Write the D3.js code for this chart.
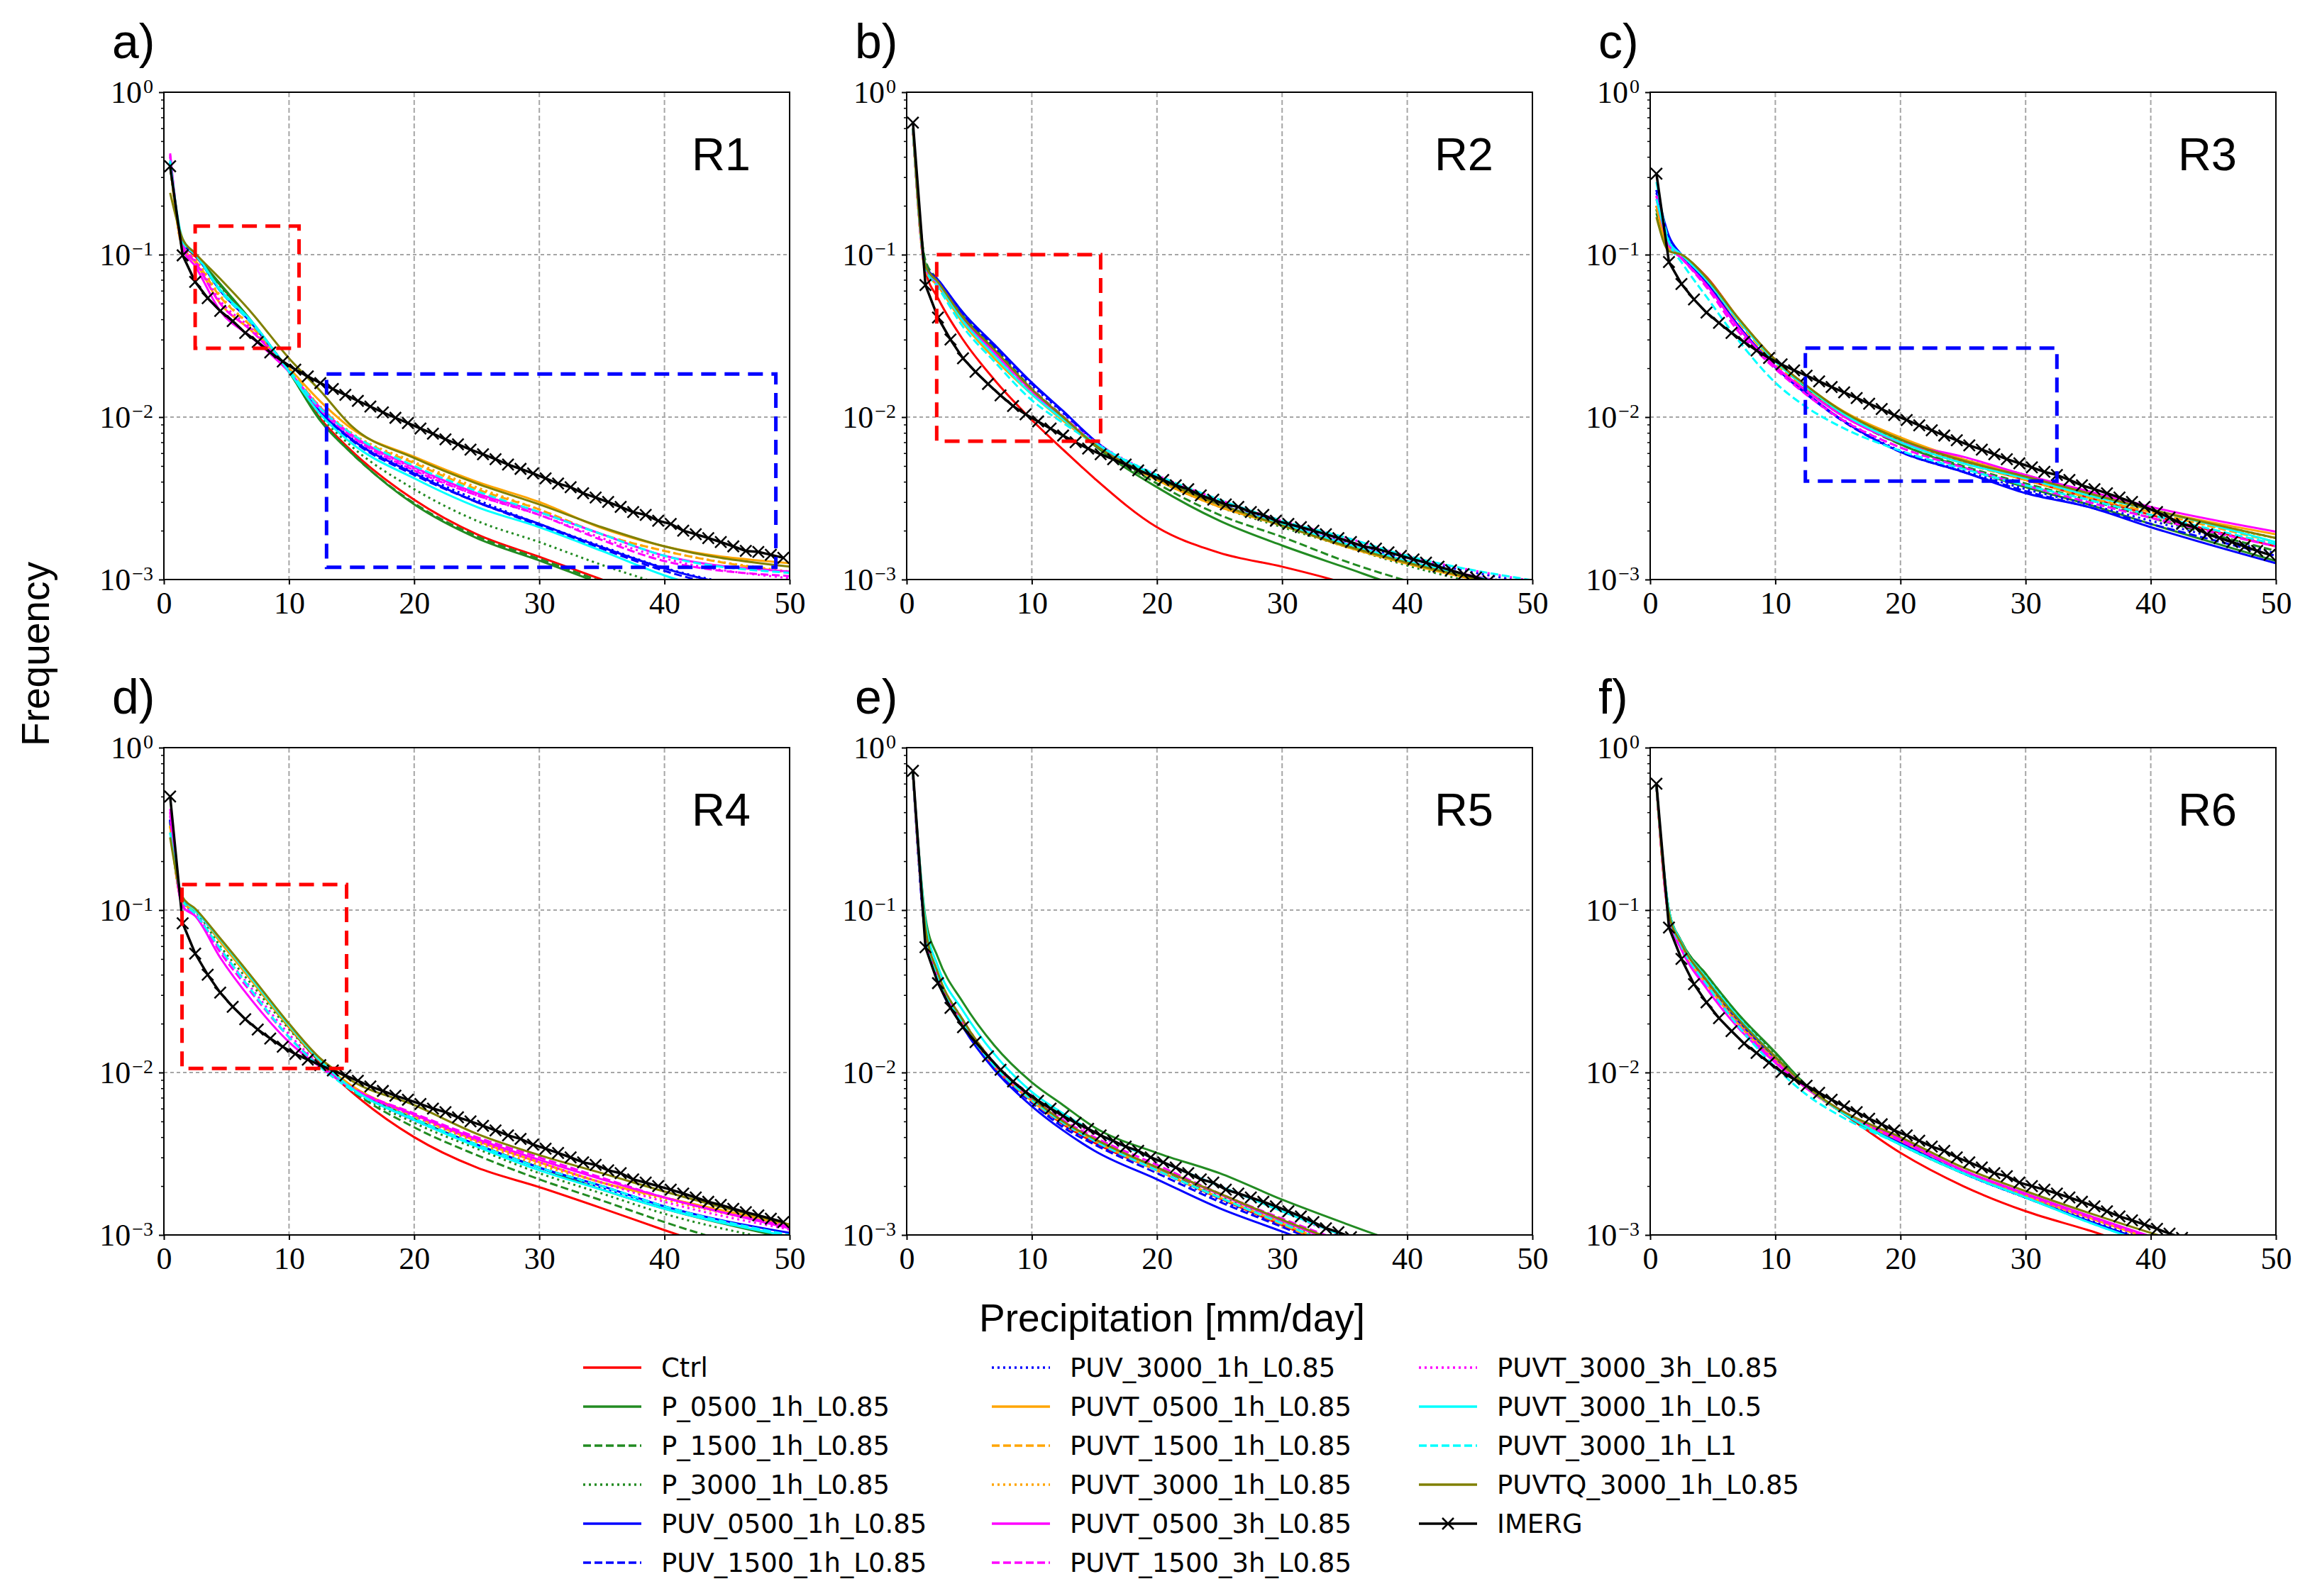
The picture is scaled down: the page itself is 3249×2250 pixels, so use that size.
<!DOCTYPE html>
<html>
<head>
<meta charset="utf-8">
<script src="https://cdn.jsdelivr.net/npm/d3@7"></script>
<style>
  body { margin: 0; background: #fff; }
</style>
</head>
<body>
<div id="chart"></div>
<script>
/*
----------------------------------------
Data (frequency per 1 mm/day bin)
----------------------------------------
*/
const modelNames = ['Ctrl', 'P_0500_1h_L0.85', 'P_1500_1h_L0.85', 'P_3000_1h_L0.85',
  'PUV_0500_1h_L0.85', 'PUV_1500_1h_L0.85', 'PUV_3000_1h_L0.85',
  'PUVT_0500_1h_L0.85', 'PUVT_1500_1h_L0.85', 'PUVT_3000_1h_L0.85',
  'PUVT_0500_3h_L0.85', 'PUVT_1500_3h_L0.85', 'PUVT_3000_3h_L0.85',
  'PUVT_3000_1h_L0.5', 'PUVT_3000_1h_L1', 'PUVTQ_3000_1h_L0.85'];
const obsName = 'IMERG';

const modelColors = ['#ff0000', '#228b22', '#228b22', '#228b22', '#0000ff', '#0000ff', '#0000ff',
  '#ffa500', '#ffa500', '#ffa500', '#ff00ff', '#ff00ff', '#ff00ff', '#00ffff', '#00ffff', '#808000'];
const modelStyles = ['solid', 'solid', 'dashed', 'dotted', 'solid', 'dashed', 'dotted',
  'solid', 'dashed', 'dotted', 'solid', 'dashed', 'dotted', 'solid', 'dashed', 'solid'];

const panelTitles = ['R1', 'R2', 'R3', 'R4', 'R5', 'R6'];
const panelLetters = ['a)', 'b)', 'c)', 'd)', 'e)', 'f)'];

const xTicks = [0, 10, 20, 30, 40, 50];
const yTicks = [1, 0.1, 0.01, 0.001];
const yTickExp = ['0', '\u22121', '\u22122', '\u22123'];

// precipitation values where the model curves were read
const modelX = [0.5, 1.5, 2.5, 4.5, 7, 10, 12.5, 15, 20, 25, 30, 35, 40, 50];
// IMERG bin centres
const imergX = [0.5, 1.5, 2.5, 3.5, 4.5, 5.5, 6.5, 7.5, 8.5, 9.5, 10.5, 11.5, 12.5, 13.5, 14.5,
  15.5, 16.5, 17.5, 18.5, 19.5, 20.5, 21.5, 22.5, 23.5, 24.5, 25.5, 26.5, 27.5, 28.5, 29.5,
  30.5, 31.5, 32.5, 33.5, 34.5, 35.5, 36.5, 37.5, 38.5, 39.5, 40.5, 41.5, 42.5, 43.5, 44.5,
  45.5, 46.5, 47.5, 48.5, 49.5];

// R1
const r1Models = [
  [.36, .12, .098, .065, .038, .019, .0098, .0062, .0031, .0019, .00138, .001, .00072, .0004],
  [.35, .12, .1, .066, .039, .019, .0095, .006, .0029, .0018, .00131, .00094, .00068, .00038],
  [.35, .12, .099, .065, .038, .019, .0096, .006, .00295, .00185, .00134, .00097, .0007, .0004],
  [.36, .12, .1, .064, .038, .0192, .0102, .0066, .0036, .0023, .0017, .00123, .00092, .0005],
  [.37, .12, .1, .06, .038, .0193, .0108, .0073, .0045, .003, .0022, .00158, .00117, .0008],
  [.37, .12, .1, .06, .038, .0193, .0107, .0072, .0044, .003, .00215, .00155, .00113, .00078],
  [.37, .12, .1, .06, .038, .0194, .0109, .0074, .0046, .0031, .0022, .0016, .00118, .00083],
  [.36, .11, .09, .05, .034, .02, .0125, .0085, .0057, .004, .003, .00207, .0016, .00126],
  [.36, .11, .092, .055, .036, .0197, .0115, .0079, .0052, .0036, .0027, .0019, .0015, .0011],
  [.36, .11, .094, .056, .036, .0197, .0116, .008, .0053, .0037, .0027, .0019, .0015, .00112],
  [.42, .11, .085, .045, .031, .019, .0114, .0078, .0049, .0034, .0026, .0019, .0014, .00112],
  [.41, .115, .09, .05, .034, .019, .0111, .0076, .0047, .0033, .0025, .00175, .0013, .00105],
  [.40, .115, .092, .052, .035, .0192, .0112, .0077, .0048, .0033, .0025, .0018, .00135, .00102],
  [.38, .125, .102, .061, .039, .019, .0104, .0069, .0042, .0028, .0021, .0015, .00106, .0007],
  [.37, .12, .1, .06, .038, .0195, .0113, .0079, .005, .0035, .0026, .0019, .0014, .0011],
  [.24, .125, .102, .071, .044, .023, .0145, .0088, .0056, .0039, .0029, .0021, .0016, .0012]
];
const r1Imerg = [.35, .099, .068, .054, .045, .039, .033, .029, .025, .022, .0196, .0178, .0162, .0149, .0137,
  .0126, .0116, .0107, .0099, .0092, .0085, .0079, .0073, .0068, .0063, .0059, .0055, .0051, .0048, .0045,
  .0042, .0039, .0037, .0034, .0032, .003, .0028, .0026, .0025, .0023, .0022, .002, .0019, .0018, .0017,
  .0016, .0015, .00148, .00142, .00136];

// R2
const r2Models = [
  [.58, .08, .054, .03, .017, .0096, .0063, .0042, .0021, .00146, .0012, .00095, .0007, .0004],
  [.6, .088, .068, .042, .026, .0148, .0099, .0067, .0037, .0023, .00162, .00119, .00088, .0006],
  [.6, .092, .07, .044, .027, .015, .0101, .0068, .0039, .0025, .00183, .0013, .00098, .00065],
  [.6, .088, .069, .042, .026, .0148, .0099, .0068, .0041, .0028, .0021, .0016, .00122, .0008],
  [.6, .085, .07, .044, .028, .0163, .0109, .0072, .0042, .0029, .0022, .00165, .00128, .00085],
  [.6, .085, .07, .043, .0275, .016, .0107, .0071, .0042, .0029, .0022, .00165, .00128, .00085],
  [.6, .085, .069, .043, .027, .0157, .0106, .0071, .0043, .003, .00225, .0017, .00135, .00095],
  [.6, .08, .064, .038, .023, .0138, .0095, .0068, .0041, .0028, .00215, .0016, .00125, .00084],
  [.6, .08, .065, .039, .024, .0141, .0097, .0068, .0041, .00285, .00218, .00162, .00127, .00085],
  [.6, .08, .066, .04, .0245, .0143, .0098, .0069, .0042, .0029, .0022, .00165, .0013, .00088],
  [.6, .082, .066, .04, .025, .0145, .0098, .0069, .0043, .0029, .0022, .00168, .0013, .0009],
  [.6, .082, .067, .041, .0255, .0148, .01, .0069, .0043, .0029, .0022, .00168, .0013, .0009],
  [.6, .083, .067, .041, .0255, .0149, .0101, .0071, .0044, .0031, .0023, .00182, .0014, .00098],
  [.6, .085, .067, .039, .024, .0138, .0097, .007, .0043, .0029, .0022, .00167, .0013, .00088],
  [.6, .082, .063, .036, .022, .0127, .0092, .0069, .0044, .0031, .0023, .00182, .0014, .00099],
  [.6, .085, .068, .041, .026, .0148, .01, .0068, .0042, .0029, .00215, .00162, .00127, .00085]
];
const r2Imerg = [.65, .065, .041, .03, .023, .019, .016, .0136, .0117, .0104, .0094, .0085, .0077, .007, .0064,
  .0059, .0055, .0051, .0047, .0044, .0041, .0038, .0036, .0033, .0031, .0029, .0028, .0026, .0025, .0023,
  .0022, .0021, .002, .0019, .0018, .0017, .0016, .00155, .00147, .0014, .00133, .00127, .0012, .00114, .00108,
  .00103, .00098, .00093, .00088, .00083];

// R3
const r3Models = [
  [.2, .11, .1, .073, .041, .0225, .0155, .0112, .0071, .0053, .0041, .0032, .0025, .0016],
  [.18, .11, .1, .072, .04, .0222, .0152, .011, .0068, .0049, .0037, .0029, .0022, .0013],
  [.19, .11, .1, .071, .04, .0222, .0151, .0108, .0068, .005, .0039, .0031, .0024, .0015],
  [.19, .11, .1, .071, .04, .0223, .0152, .011, .0072, .0055, .0044, .0034, .0027, .0018],
  [.25, .13, .1, .068, .037, .0205, .014, .01, .0061, .0046, .0034, .0028, .0021, .00126],
  [.25, .125, .1, .066, .036, .0203, .0138, .0099, .0061, .0046, .0035, .0028, .0022, .0014],
  [.24, .125, .1, .066, .036, .0205, .0139, .01, .0062, .0047, .0036, .0029, .0023, .00145],
  [.2, .11, .1, .072, .041, .0222, .0155, .0114, .0075, .0055, .0044, .0034, .0027, .0019],
  [.2, .11, .1, .07, .039, .0215, .0148, .0106, .007, .0052, .0041, .0032, .0026, .0017],
  [.2, .11, .1, .071, .04, .022, .0152, .011, .0072, .0053, .0042, .0033, .0026, .0018],
  [.22, .115, .095, .065, .036, .0205, .0145, .0106, .007, .0057, .0044, .0035, .0028, .00197],
  [.23, .115, .095, .063, .034, .0198, .0137, .01, .0065, .0049, .0038, .003, .0024, .0016],
  [.23, .115, .096, .064, .035, .02, .0139, .0101, .0065, .0049, .0038, .003, .0024, .00165],
  [.22, .12, .1, .07, .04, .022, .0153, .011, .007, .0052, .0042, .0033, .0027, .0017],
  [.28, .12, .09, .055, .03, .0163, .0115, .0089, .0062, .0048, .0038, .0031, .0025, .00165],
  [.17, .105, .1, .072, .041, .0225, .0156, .0113, .0073, .0054, .0043, .0034, .0027, .0018]
];
const r3Imerg = [.315, .09, .066, .053, .044, .038, .033, .029, .0257, .0231, .0211, .0194, .018, .0166, .0153,
  .0142, .0131, .0121, .0112, .0103, .0096, .0089, .0083, .0077, .0072, .0067, .0063, .0059, .0055, .0052,
  .0049, .0046, .0044, .0041, .0038, .0036, .0034, .0032, .003, .0028, .0026, .0024, .0022, .0021, .0019,
  .0018, .0017, .0016, .0015, .00142];

// R4
const r4Models = [
  [.35, .11, .1, .064, .037, .019, .0115, .0076, .004, .0026, .00197, .00146, .00107, .0006],
  [.35, .115, .1, .065, .038, .0195, .0118, .0082, .0052, .0036, .0026, .0019, .00145, .00095],
  [.35, .11, .1, .064, .037, .019, .0116, .0078, .0046, .0031, .0022, .00163, .0012, .0007],
  [.33, .11, .098, .06, .035, .0185, .0116, .0079, .0049, .0034, .0024, .0018, .00135, .0009],
  [.36, .115, .1, .065, .038, .0195, .0118, .0081, .0051, .0036, .0026, .002, .0015, .00103],
  [.36, .115, .1, .065, .038, .0195, .0118, .0081, .0051, .0036, .0026, .002, .0015, .001],
  [.36, .115, .1, .065, .038, .0195, .0118, .0081, .0051, .0036, .0026, .00195, .00148, .00098],
  [.33, .11, .1, .064, .037, .0192, .0118, .0083, .0055, .0038, .0028, .0021, .0017, .00116],
  [.33, .11, .1, .064, .037, .0192, .0118, .0083, .0054, .0038, .0028, .0021, .0017, .00114],
  [.33, .11, .1, .064, .037, .0192, .0118, .0082, .0053, .0037, .0027, .0021, .00165, .00112],
  [.42, .105, .092, .051, .028, .0154, .0108, .008, .0055, .0039, .0029, .0022, .0017, .0011],
  [.4, .105, .094, .055, .031, .0165, .011, .0081, .0056, .004, .003, .00225, .0017, .00113],
  [.38, .108, .095, .057, .033, .0172, .0112, .0081, .0054, .0038, .0028, .0021, .0016, .00108],
  [.3, .12, .1, .066, .038, .0196, .0118, .008, .0051, .0035, .0025, .0019, .00145, .00098],
  [.3, .115, .095, .058, .032, .0165, .0108, .0078, .0052, .0036, .0026, .002, .0015, .001],
  [.28, .12, .102, .067, .039, .02, .0122, .0089, .0063, .0042, .0031, .0024, .00185, .00116]
];
const r4Imerg = [.5, .083, .054, .04, .031, .0254, .0213, .0184, .0162, .0144, .013, .012, .0111, .0103, .0096,
  .0089, .0082, .0077, .0072, .0068, .0064, .006, .0057, .0053, .005, .0047, .0044, .0041, .0039, .0036,
  .0034, .0032, .003, .0028, .0027, .0025, .0024, .0022, .0021, .002, .0019, .0018, .0017, .0016, .00153,
  .00145, .00138, .00132, .00126, .0012];

// R5
const r5Models = [
  [.7, .07, .038, .02, .0108, .0067, .0048, .0037, .0025, .00168, .00115, .0008, .00058, .0003],
  [.7, .09, .051, .027, .0147, .0087, .0063, .0046, .0032, .0024, .00165, .00118, .00086, .0005],
  [.7, .075, .04, .021, .0112, .0068, .0049, .0038, .0026, .0017, .00118, .00082, .0006, .0003],
  [.7, .075, .04, .021, .0112, .0069, .005, .0039, .0026, .00175, .0012, .00085, .0006, .0003],
  [.7, .07, .037, .019, .0104, .0062, .0044, .0033, .0022, .00146, .00105, .00075, .00053, .0003],
  [.7, .07, .038, .0195, .0106, .0065, .0046, .0036, .0024, .0016, .00112, .00078, .00055, .0003],
  [.7, .07, .038, .0195, .0107, .0066, .0047, .0037, .0025, .00165, .00115, .0008, .00057, .0003],
  [.7, .075, .039, .02, .011, .0067, .0049, .0038, .0025, .0017, .00118, .00082, .0006, .0003],
  [.7, .075, .039, .02, .011, .0067, .0049, .0038, .0025, .0017, .00116, .0008, .00058, .0003],
  [.7, .075, .04, .0205, .0112, .0069, .005, .0039, .0026, .0018, .00125, .00088, .00062, .00033],
  [.7, .075, .039, .0205, .0112, .0069, .005, .0039, .0026, .00178, .00122, .00086, .0006, .0003],
  [.7, .075, .039, .0205, .0112, .007, .0051, .004, .0027, .0018, .00126, .0009, .00063, .00033],
  [.7, .078, .041, .021, .0115, .0072, .0053, .0042, .0029, .002, .0014, .00096, .00067, .00035],
  [.7, .085, .045, .024, .013, .0076, .0056, .0043, .0029, .002, .0014, .00098, .0007, .00038],
  [.7, .075, .039, .02, .011, .0068, .0049, .0038, .0025, .0017, .00118, .00082, .0006, .0003],
  [.7, .078, .041, .021, .0114, .007, .005, .0039, .0026, .0018, .00124, .00088, .00062, .00033]
];
const r5Imerg = [.72, .059, .0355, .025, .019, .0154, .0126, .0104, .0088, .0076, .0067, .006, .0054, .0049, .0045,
  .0041, .0038, .0035, .0033, .003, .0028, .0026, .0024, .0022, .0021, .0019, .0018, .0017, .0016, .0015,
  .0014, .0013, .0012, .0011, .00104, .00097, .0009, .00084, .00078, .00073, .00068, .00064, .0006, .00056, .00052,
  .00049, .00046, .00043, .0004, .00038];

// R6
const r6Models = [
  [.58, .09, .062, .036, .0205, .0118, .008, .0059, .0032, .002, .0014, .00107, .0008, .0005],
  [.58, .1, .064, .04, .0231, .0133, .0083, .0059, .0036, .0024, .0017, .00122, .0009, .00055],
  [.58, .1, .064, .04, .023, .0132, .0083, .0059, .0036, .0024, .0017, .00122, .0009, .00055],
  [.58, .1, .063, .039, .0225, .013, .0083, .0059, .0036, .0024, .0017, .00122, .0009, .00055],
  [.58, .095, .062, .037, .021, .0122, .0081, .0059, .0037, .0024, .0017, .00122, .0009, .00055],
  [.58, .095, .062, .037, .021, .0122, .0081, .0059, .0037, .0024, .0017, .00122, .0009, .00055],
  [.58, .095, .062, .037, .0212, .0124, .0082, .0059, .0037, .0024, .0017, .00124, .00092, .00056],
  [.58, .09, .058, .035, .02, .0118, .008, .0059, .0038, .0025, .00175, .00128, .00095, .00058],
  [.58, .09, .059, .035, .0202, .0119, .008, .0059, .0038, .0025, .00175, .00128, .00095, .00058],
  [.58, .09, .059, .036, .0205, .012, .0081, .0059, .0038, .0025, .00175, .00128, .00095, .00058],
  [.58, .09, .057, .033, .019, .0115, .008, .006, .0039, .0025, .0018, .00132, .00098, .0006],
  [.58, .09, .058, .034, .0195, .0117, .008, .006, .0038, .0025, .00178, .0013, .00097, .0006],
  [.58, .092, .06, .035, .02, .0118, .008, .0059, .0038, .0025, .00176, .00128, .00096, .00058],
  [.58, .1, .063, .038, .022, .0125, .0082, .0059, .0036, .0024, .0017, .0012, .00088, .00054],
  [.58, .095, .06, .035, .0195, .0108, .0073, .0055, .0036, .0024, .0017, .0012, .00088, .00054],
  [.58, .095, .062, .037, .0215, .0125, .0082, .006, .004, .0026, .00186, .00137, .00103, .00062]
];
const r6Imerg = [.6, .078, .05, .035, .027, .0216, .018, .0151, .0132, .0115, .0101, .0091, .0083, .0075, .0068,
  .0062, .0057, .0052, .0048, .0044, .0041, .0038, .0035, .0033, .003, .0028, .0026, .0024, .0023, .0021,
  .002, .0019, .0018, .0017, .0016, .0015, .0014, .0013, .00123, .00116, .00109, .00102, .00096, .0009, .00085,
  .0008, .00075, .00071, .00067, .00063];

const panelModels = [r1Models, r2Models, r3Models, r4Models, r5Models, r6Models];
const panelImerg = [r1Imerg, r2Imerg, r3Imerg, r4Imerg, r5Imerg, r6Imerg];

// highlight boxes: panel index, x from, x to, frequency from, frequency to
const boxPanel = [0, 0, 1, 2, 3];
const boxX = [[2.5, 10.8], [13, 48.9], [2.4, 15.5], [12.4, 32.5], [1.45, 14.6]];
const boxY = [[0.0265, 0.15], [0.00119, 0.0184], [0.0071, 0.1], [0.00404, 0.0266], [0.0106, 0.1435]];
const boxColors = ['#ff0000', '#0000ff', '#ff0000', '#0000ff', '#ff0000'];

/*
----------------------------------------
Layout
----------------------------------------
*/
const W = 3249, H = 2250;
const colLeft = [231, 1278, 2326];
const rowTop = [130, 1054];
const pw = 882, ph = 687;
const sansFont = '"Liberation Sans", Arial, sans-serif';
const serifFont = '"Liberation Serif", "Times New Roman", serif';

const dashFor = (style) => style === 'dashed' ? '11,5' : style === 'dotted' ? '3,5' : null;

const svg = d3.select('#chart').append('svg')
  .attr('width', W)
  .attr('height', H)
  .style('background', '#fff');

const defs = svg.append('defs');

const x = d3.scaleLinear().domain([0, 50]).range([0, pw]);
const y = d3.scaleLog().domain([1e-3, 1]).range([ph, 0]);

// minor ticks of the log axis
const minorTicks = [];
[1e-3, 1e-2, 1e-1].forEach(dec => {
  for (let m = 2; m <= 9; m++) minorTicks.push(dec * m);
});

const modelLine = d3.line()
  .x((d, k) => x(modelX[k]))
  .y(d => y(d))
  .curve(d3.curveMonotoneX);
const obsLine = d3.line()
  .x((d, k) => x(imergX[k]))
  .y(d => y(d));

panelTitles.forEach((title, i) => {
  const left = colLeft[i % 3];
  const top = rowTop[Math.floor(i / 3)];
  const g = svg.append('g').attr('transform', `translate(${left},${top})`);

  defs.append('clipPath').attr('id', `clip-${i}`)
    .append('rect').attr('x', 0).attr('y', 0).attr('width', pw).attr('height', ph);

  //grid lines
  g.append('g').selectAll('line').data(xTicks.slice(1, -1)).join('line')
    .attr('x1', d => x(d)).attr('x2', d => x(d))
    .attr('y1', 0).attr('y2', ph)
    .attr('stroke', '#a6a6a6').attr('stroke-width', 2).attr('stroke-dasharray', '7,4');
  g.append('g').selectAll('line').data(yTicks.slice(1, -1)).join('line')
    .attr('x1', 0).attr('x2', pw)
    .attr('y1', d => y(d)).attr('y2', d => y(d))
    .attr('stroke', '#a6a6a6').attr('stroke-width', 2).attr('stroke-dasharray', '5,4');

  //model curves and the observations
  const lg = g.append('g').attr('clip-path', `url(#clip-${i})`);
  panelModels[i].forEach((vals, s) => {
    lg.append('path')
      .attr('d', modelLine(vals))
      .attr('fill', 'none')
      .attr('stroke', modelColors[s])
      .attr('stroke-width', 3)
      .attr('stroke-dasharray', dashFor(modelStyles[s]));
  });
  lg.append('path')
    .attr('d', obsLine(panelImerg[i]))
    .attr('fill', 'none')
    .attr('stroke', '#000')
    .attr('stroke-width', 3.5);
  const ms = 8;
  lg.append('g').selectAll('path').data(panelImerg[i]).join('path')
    .attr('d', (d, k) => {
      const cx = x(imergX[k]), cy = y(d);
      return `M${cx - ms},${cy - ms}L${cx + ms},${cy + ms}M${cx - ms},${cy + ms}L${cx + ms},${cy - ms}`;
    })
    .attr('stroke', '#000')
    .attr('stroke-width', 2.5);

  //highlight boxes
  boxPanel.forEach((bp, b) => {
    if (bp !== i) return;
    g.append('rect')
      .attr('x', x(boxX[b][0]))
      .attr('y', y(boxY[b][1]))
      .attr('width', x(boxX[b][1]) - x(boxX[b][0]))
      .attr('height', y(boxY[b][0]) - y(boxY[b][1]))
      .attr('fill', 'none')
      .attr('stroke', boxColors[b])
      .attr('stroke-width', 5)
      .attr('stroke-dasharray', '21,12');
  });

  //axes
  const xAxis = g.append('g').attr('transform', `translate(0,${ph})`)
    .call(d3.axisBottom(x).tickValues(xTicks).tickFormat(d3.format('d')).tickSize(7).tickPadding(10));
  xAxis.select('.domain').remove();
  xAxis.selectAll('line').attr('stroke', '#000').attr('stroke-width', 2);
  xAxis.selectAll('text').attr('font-family', serifFont).attr('font-size', 44).attr('fill', '#000');

  const yAxis = g.append('g')
    .call(d3.axisLeft(y).tickValues(yTicks).tickFormat('').tickSize(7));
  yAxis.select('.domain').remove();
  yAxis.selectAll('line').attr('stroke', '#000').attr('stroke-width', 2);
  const yMinor = g.append('g')
    .call(d3.axisLeft(y).tickValues(minorTicks).tickFormat('').tickSize(4));
  yMinor.select('.domain').remove();
  yMinor.selectAll('line').attr('stroke', '#000').attr('stroke-width', 1.5);

  yTicks.forEach((v, k) => {
    const t = g.append('text')
      .attr('x', -15)
      .attr('y', y(v) + 15)
      .attr('text-anchor', 'end')
      .attr('font-family', serifFont)
      .attr('font-size', 44)
      .attr('fill', '#000');
    t.append('tspan').text('10');
    t.append('tspan').attr('dx', 2).attr('dy', -14).attr('font-size', 28).text(yTickExp[k]);
  });

  //frame
  g.append('rect')
    .attr('width', pw).attr('height', ph)
    .attr('fill', 'none').attr('stroke', '#000').attr('stroke-width', 2);

  //titles
  g.append('text')
    .attr('x', pw - 55).attr('y', 110)
    .attr('text-anchor', 'end')
    .attr('font-family', sansFont).attr('font-size', 65)
    .text(title);
  g.append('text')
    .attr('x', -73).attr('y', -48)
    .attr('font-family', sansFont).attr('font-size', 68)
    .text(panelLetters[i]);
});

/*
----------------------------------------
Shared axis labels and the legend
----------------------------------------
*/
svg.append('text')
  .attr('transform', 'translate(69,922) rotate(-90)')
  .attr('text-anchor', 'middle')
  .attr('font-family', sansFont).attr('font-size', 55)
  .text('Frequency');

svg.append('text')
  .attr('x', 1652).attr('y', 1877)
  .attr('text-anchor', 'middle')
  .attr('font-family', sansFont).attr('font-size', 55)
  .text('Precipitation [mm/day]');

const legendCols = [822, 1398, 2000];
const legendRow0 = 1928, legendRowStep = 55;
const legendItems = modelNames.map((name, s) => ({ name, color: modelColors[s], style: modelStyles[s], obs: false }))
  .concat([{ name: obsName, color: '#000', style: 'solid', obs: true }]);

const legend = svg.append('g');
legendItems.forEach((item, k) => {
  const lx = legendCols[Math.floor(k / 6)];
  const ly = legendRow0 + (k % 6) * legendRowStep;
  legend.append('line')
    .attr('x1', lx).attr('x2', lx + 82)
    .attr('y1', ly).attr('y2', ly)
    .attr('stroke', item.color)
    .attr('stroke-width', 3.5)
    .attr('stroke-dasharray', dashFor(item.style));
  if (item.obs) {
    const cx = lx + 41, m = 8;
    legend.append('path')
      .attr('d', `M${cx - m},${ly - m}L${cx + m},${ly + m}M${cx - m},${ly + m}L${cx + m},${ly - m}`)
      .attr('stroke', '#000').attr('stroke-width', 2.5);
  }
  legend.append('text')
    .attr('x', lx + 110).attr('y', ly)
    .attr('dominant-baseline', 'central')
    .attr('font-family', '"DejaVu Sans", sans-serif').attr('font-size', 37)
    .text(item.name);
});
</script>
</body>
</html>
